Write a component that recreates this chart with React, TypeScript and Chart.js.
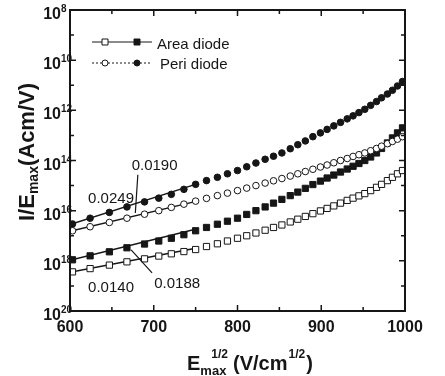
import React, { useEffect, useRef } from 'react';
import { Chart, registerables } from 'chart.js';

Chart.register(...registerables);

// ---- data ----
const xValues = [603, 624, 647, 668, 689, 706, 721, 736, 750, 763, 776, 788, 800, 811, 822, 833, 843, 853, 863, 872, 881, 890, 899, 907, 915, 923, 931, 938, 945, 952, 959, 966, 972, 979, 985, 991, 997];

const periFilled = [2.95e-17, 5.01e-17, 8.51e-17, 1.41e-16, 2.24e-16, 3.16e-16, 4.47e-16, 7.08e-16, 1.12e-15, 1.58e-15, 2.14e-15, 2.95e-15, 3.98e-15, 5.62e-15, 7.94e-15, 1.12e-14, 1.48e-14, 2.0e-14, 2.95e-14, 4.27e-14, 6.03e-14, 8.91e-14, 1.26e-13, 1.74e-13, 2.40e-13, 3.31e-13, 4.57e-13, 6.03e-13, 8.13e-13, 1.10e-12, 1.58e-12, 2.24e-12, 3.16e-12, 4.47e-12, 6.31e-12, 9.33e-12, 1.41e-11];

const periOpen = [1.58e-17, 2.29e-17, 3.39e-17, 5.01e-17, 7.24e-17, 1.0e-16, 1.35e-16, 1.82e-16, 2.40e-16, 3.09e-16, 3.98e-16, 5.01e-16, 6.31e-16, 7.94e-16, 1.0e-15, 1.26e-15, 1.55e-15, 1.91e-15, 2.40e-15, 2.95e-15, 3.63e-15, 4.47e-15, 5.50e-15, 6.61e-15, 8.13e-15, 1.0e-14, 1.20e-14, 1.45e-14, 1.70e-14, 2.0e-14, 2.45e-14, 3.02e-14, 3.72e-14, 4.68e-14, 5.75e-14, 7.08e-14, 8.91e-14];

const areaFilled = [1.10e-18, 1.58e-18, 2.29e-18, 3.31e-18, 4.68e-18, 6.17e-18, 7.94e-18, 1.10e-17, 1.58e-17, 2.14e-17, 2.88e-17, 3.80e-17, 5.01e-17, 7.08e-17, 1.0e-16, 1.41e-16, 2.0e-16, 2.82e-16, 3.98e-16, 5.50e-16, 7.76e-16, 1.10e-15, 1.51e-15, 2.0e-15, 2.63e-15, 3.47e-15, 4.57e-15, 5.89e-15, 7.59e-15, 1.0e-14, 1.38e-14, 2.0e-14, 3.02e-14, 5.01e-14, 7.94e-14, 1.26e-13, 2.0e-13];

const areaOpen = [3.63e-19, 4.90e-19, 6.76e-19, 9.12e-19, 1.20e-18, 1.55e-18, 1.91e-18, 2.34e-18, 2.82e-18, 3.72e-18, 4.79e-18, 6.17e-18, 7.94e-18, 1.0e-17, 1.29e-17, 1.66e-17, 2.14e-17, 2.69e-17, 3.55e-17, 4.57e-17, 5.89e-17, 7.59e-17, 9.77e-17, 1.23e-16, 1.55e-16, 2.0e-16, 2.57e-16, 3.16e-16, 3.89e-16, 4.79e-16, 6.31e-16, 8.51e-16, 1.12e-15, 1.58e-15, 2.14e-15, 2.95e-15, 3.98e-15];

// straight fit lines over the low-field part
const fitPeriFilledX = [600, 748];
const fitPeriFilledY = [2.82e-17, 1.07e-15];
const fitPeriOpenX = [600, 748];
const fitPeriOpenY = [1.51e-17, 2.24e-16];
const fitAreaFilledX = [600, 752];
const fitAreaFilledY = [1.05e-18, 1.91e-17];
const fitAreaOpenX = [600, 750];
const fitAreaOpenY = [3.47e-19, 3.16e-18];

const xTickValues = [600, 650, 700, 750, 800, 850, 900, 950, 1000];
const xTickLabels = ['600', '700', '800', '900', '1000'];
const yDecades = [8, 9, 10, 11, 12, 13, 14, 15, 16, 17, 18, 19, 20];
const yLabelExponents = [8, 10, 12, 14, 16, 18, 20];
const yLabelTexts = ['8', '10', '12', '14', '16', '18', '20'];

const legendLabels = ['Area diode', 'Peri diode'];

const annotationTexts = ['0.0249', '0.0190', '0.0140', '0.0188'];
const annotationX = [649, 701, 649, 728];
const annotationY = [2.95e-16, 6.0e-15, 8.3e-20, 1.2e-19];
const pointerFromX = [681, 673];
const pointerFromY = [2.7e-15, 2.75e-18];
const pointerToX = [678, 698];
const pointerToY = [8.1e-17, 3.3e-19];

// ---- styles ----
const INK = '#161616';
const FONT = '"Liberation Sans", Arial, Helvetica, sans-serif';

const toPoints = (xs: number[], ys: number[]) => xs.map((x, i) => ({ x, y: ys[i] }));

const drawSquare = (ctx: CanvasRenderingContext2D, cx: number, cy: number, s: number, filled: boolean) => {
  ctx.beginPath();
  ctx.rect(cx - s / 2, cy - s / 2, s, s);
  ctx.fillStyle = filled ? INK : '#fff';
  ctx.fill();
  ctx.lineWidth = 1;
  ctx.strokeStyle = INK;
  ctx.stroke();
};
const drawCircle = (ctx: CanvasRenderingContext2D, cx: number, cy: number, r: number, filled: boolean) => {
  ctx.beginPath();
  ctx.arc(cx, cy, r, 0, Math.PI * 2);
  ctx.fillStyle = filled ? INK : '#fff';
  ctx.fill();
  ctx.lineWidth = 1;
  ctx.strokeStyle = INK;
  ctx.stroke();
};

const decorPlugin = {
  id: 'decor',
  beforeDraw(chart: any) {
    const ctx = chart.ctx;
    ctx.save();
    ctx.fillStyle = '#fff';
    ctx.fillRect(0, 0, chart.width, chart.height);
    ctx.restore();
  },
  afterDraw(chart: any) {
    const ctx: CanvasRenderingContext2D = chart.ctx;
    const a = chart.chartArea;
    const xs = chart.scales.x;
    const ys = chart.scales.y;
    ctx.save();
    // frame
    ctx.strokeStyle = INK;
    ctx.lineWidth = 2;
    ctx.strokeRect(a.left, a.top, a.right - a.left, a.bottom - a.top);
    // inward ticks
    ctx.lineWidth = 1.5;
    ctx.beginPath();
    xTickValues.forEach((v) => {
      const px = xs.getPixelForValue(v);
      const len = v % 100 === 0 ? 6 : 4;
      ctx.moveTo(px, a.bottom);
      ctx.lineTo(px, a.bottom - len);
      ctx.moveTo(px, a.top);
      ctx.lineTo(px, a.top + len);
    });
    yDecades.forEach((e) => {
      const py = ys.getPixelForValue(Math.pow(10, -e));
      const len = e % 2 === 0 ? 6 : 4;
      ctx.moveTo(a.left, py);
      ctx.lineTo(a.left + len, py);
      ctx.moveTo(a.right, py);
      ctx.lineTo(a.right - len, py);
    });
    ctx.stroke();

    // y tick labels: 10 with superscript exponent
    ctx.fillStyle = INK;
    yLabelExponents.forEach((e, i) => {
      const py = ys.getPixelForValue(Math.pow(10, -e));
      ctx.font = `bold 16px ${FONT}`;
      ctx.textAlign = 'right';
      ctx.textBaseline = 'alphabetic';
      ctx.fillText('10', 61, py + 9);
      ctx.font = `bold 10px ${FONT}`;
      ctx.textAlign = 'left';
      ctx.fillText(yLabelTexts[i], 61, py + 2);
    });

    // x axis title: E_max^1/2 (V/cm^1/2)
    ctx.textAlign = 'left';
    ctx.textBaseline = 'alphabetic';
    let cx = 187;
    const base = 370;
    ctx.font = `bold 20px ${FONT}`;
    ctx.fillText('E', cx, base);
    cx += ctx.measureText('E').width;
    ctx.font = `bold 13px ${FONT}`;
    ctx.fillText('max', cx, base + 5);
    const maxW = ctx.measureText('max').width;
    ctx.font = `bold 12px ${FONT}`;
    ctx.fillText('1/2', cx + 11, base - 12);
    const supW = ctx.measureText('1/2').width;
    cx = Math.max(cx + maxW, cx + 11 + supW) + 5;
    ctx.font = `bold 20px ${FONT}`;
    ctx.fillText('(V/cm', cx, base);
    cx += ctx.measureText('(V/cm').width + 1;
    ctx.font = `bold 12px ${FONT}`;
    ctx.fillText('1/2', cx, base - 12);
    cx += ctx.measureText('1/2').width + 1;
    ctx.font = `bold 20px ${FONT}`;
    ctx.fillText(')', cx, base);

    // y axis title: I/E_max(Acm/V), rotated
    ctx.save();
    ctx.translate(34, 221);
    ctx.rotate(-Math.PI / 2);
    let ty = 0;
    ctx.font = `bold 22px ${FONT}`;
    ctx.fillText('I/E', ty, 0);
    ty += ctx.measureText('I/E').width;
    ctx.font = `bold 14px ${FONT}`;
    ctx.fillText('max', ty, 4);
    ty += ctx.measureText('max').width;
    ctx.font = `bold 22px ${FONT}`;
    ctx.fillText('(Acm/V)', ty, 0);
    ctx.restore();

    // legend
    ctx.strokeStyle = INK;
    ctx.lineWidth = 1;
    ctx.beginPath();
    ctx.moveTo(92, 42);
    ctx.lineTo(152, 42);
    ctx.stroke();
    ctx.setLineDash([2, 2]);
    ctx.beginPath();
    ctx.moveTo(92, 63);
    ctx.lineTo(152, 63);
    ctx.stroke();
    ctx.setLineDash([]);
    drawSquare(ctx, 105, 42, 6, false);
    drawSquare(ctx, 137, 42, 6, true);
    drawCircle(ctx, 105, 63, 3, false);
    drawCircle(ctx, 137, 63, 3, true);
    ctx.fillStyle = INK;
    ctx.font = `15px ${FONT}`;
    ctx.textBaseline = 'middle';
    ctx.textAlign = 'left';
    ctx.fillText(legendLabels[0], 157, 45);
    ctx.fillText(legendLabels[1], 160, 65);

    // annotations
    ctx.font = `15px ${FONT}`;
    ctx.textAlign = 'center';
    annotationTexts.forEach((t, i) => {
      ctx.fillText(t, xs.getPixelForValue(annotationX[i]), ys.getPixelForValue(annotationY[i]));
    });
    ctx.lineWidth = 1.2;
    ctx.beginPath();
    pointerFromX.forEach((fx, i) => {
      ctx.moveTo(xs.getPixelForValue(fx), ys.getPixelForValue(pointerFromY[i]));
      ctx.lineTo(xs.getPixelForValue(pointerToX[i]), ys.getPixelForValue(pointerToY[i]));
    });
    ctx.stroke();
    ctx.restore();
  },
};

const markerSet = (label: string, ys: number[], style: string, filled: boolean, radius: number) => ({
  label,
  data: toPoints(xValues, ys),
  showLine: false,
  pointStyle: style,
  pointRadius: radius,
  pointBorderWidth: 1,
  pointBorderColor: INK,
  pointBackgroundColor: filled ? INK : '#ffffff',
  borderColor: INK,
  backgroundColor: filled ? INK : '#ffffff',
});

const fitSet = (label: string, xs: number[], ys: number[]) => ({
  label,
  data: toPoints(xs, ys),
  showLine: true,
  pointRadius: 0,
  borderWidth: 1.5,
  borderColor: INK,
  fill: false,
});

export default function App() {
  const ref = useRef<HTMLCanvasElement>(null);
  useEffect(() => {
    if (!ref.current) return;
    const chart = new Chart(ref.current, {
      type: 'scatter',
      data: {
        datasets: [
          markerSet('Peri diode (filled)', periFilled, 'circle', true, 3.3),
          markerSet('Peri diode (open)', periOpen, 'circle', false, 3.3),
          markerSet('Area diode (filled)', areaFilled, 'rect', true, 4.4),
          markerSet('Area diode (open)', areaOpen, 'rect', false, 4.4),
          fitSet('fit peri filled', fitPeriFilledX, fitPeriFilledY),
          fitSet('fit peri open', fitPeriOpenX, fitPeriOpenY),
          fitSet('fit area filled', fitAreaFilledX, fitAreaFilledY),
          fitSet('fit area open', fitAreaOpenX, fitAreaOpenY),
        ] as any,
      },
      options: {
        responsive: false,
        animation: false,
        events: [],
        layout: { padding: { left: 0, top: 10, right: 40, bottom: 0 } },
        plugins: { legend: { display: false }, tooltip: { enabled: false } },
        scales: {
          x: {
            type: 'linear',
            min: 600,
            max: 1000,
            grid: { display: false, drawTicks: false },
            border: { display: false },
            ticks: {
              stepSize: 100,
              padding: 7,
              color: INK,
              font: { family: FONT, size: 16, weight: 'bold' },
              callback: (_v: any, i: number) => xTickLabels[i],
            },
            afterFit: (s: any) => {
              s.height = 65;
            },
          },
          y: {
            type: 'logarithmic',
            min: 1e-20,
            max: 1e-8,
            grid: { display: false, drawTicks: false },
            border: { display: false },
            ticks: { display: false },
            afterBuildTicks: (s: any) => {
              s.ticks = yLabelExponents.map((e) => ({ value: Math.pow(10, -e) }));
            },
            afterFit: (s: any) => {
              s.width = 70;
            },
          },
        },
      } as any,
      plugins: [decorPlugin],
    });
    return () => chart.destroy();
  }, []);
  return (
    <div style={{ position: 'absolute', left: 0, top: 0, width: 445, height: 376, background: '#fff' }}>
      <canvas ref={ref} width={445} height={376} style={{ display: 'block' }} />
    </div>
  );
}
